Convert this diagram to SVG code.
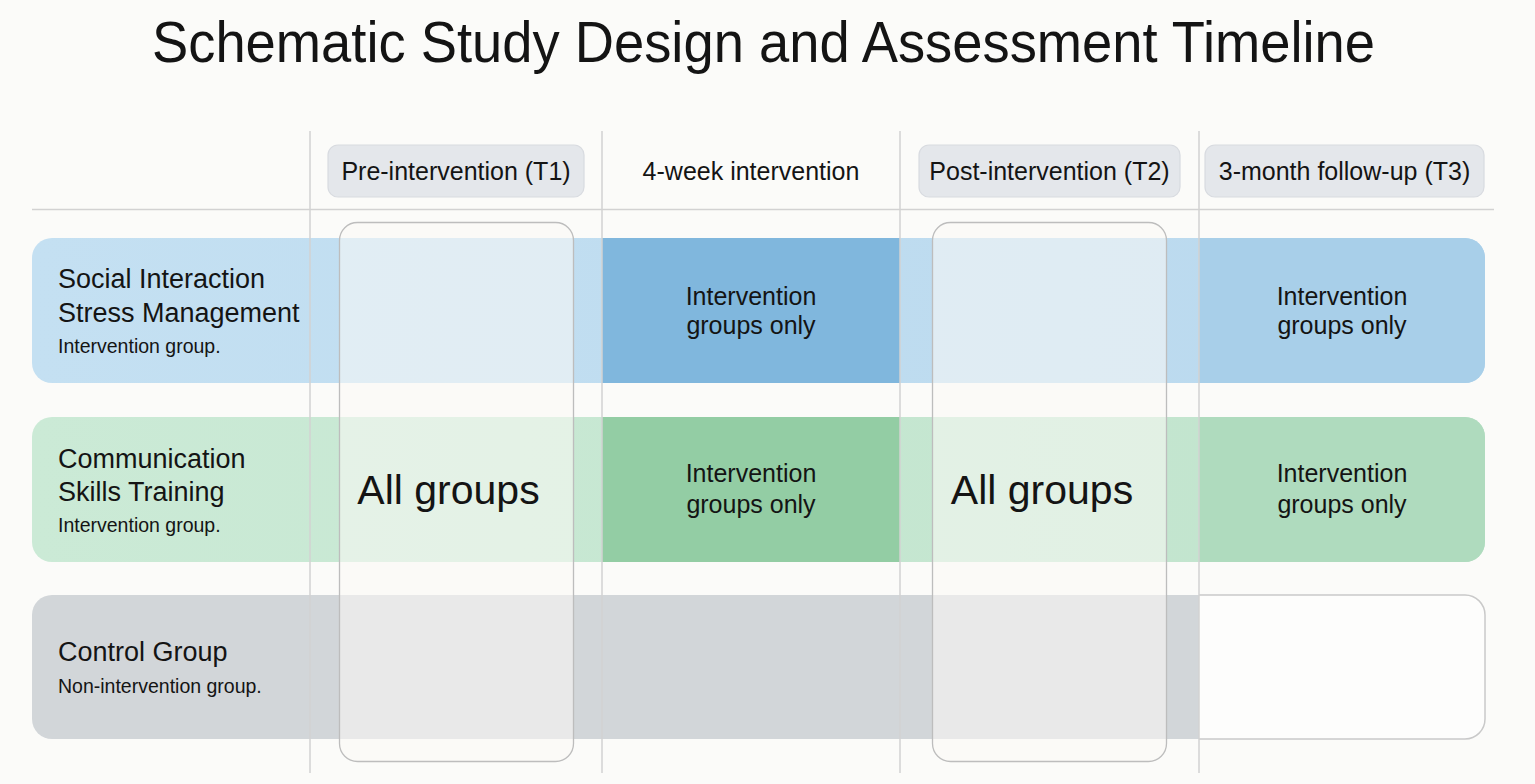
<svg xmlns="http://www.w3.org/2000/svg" width="1535" height="784" viewBox="0 0 1535 784">
  <style>
    text { font-family: "Liberation Sans", Arial, sans-serif; fill: #141414; }
    .title { font-size: 58px; }
    .hdr { font-size: 25px; text-anchor: middle; }
    .lbl { font-size: 27px; }
    .sub { font-size: 19.5px; }
    .cell { font-size: 25px; text-anchor: middle; }
    .all { font-size: 41px; text-anchor: middle; }
    .grid { stroke: #d2d2d2; stroke-width: 1.5; fill: none; }
    .pill { fill: #e4e7eb; stroke: #d8dbe0; stroke-width: 1.2; }
    .overlay { fill: #fbfaf5; fill-opacity: 0.55; stroke: #bdbdbd; stroke-width: 1.3; }
  </style>
  <defs>
    <linearGradient id="gBlue" x1="0" y1="0" x2="1" y2="0">
      <stop offset="0" stop-color="#c4e0f2"/>
      <stop offset="1" stop-color="#bad9ee"/>
    </linearGradient>
    <linearGradient id="gGreen" x1="0" y1="0" x2="1" y2="0">
      <stop offset="0" stop-color="#cbead6"/>
      <stop offset="1" stop-color="#c1e4cd"/>
    </linearGradient>
  </defs>

  <rect x="0" y="0" width="1535" height="784" fill="#fbfbf9"/>

  <text id="title" class="title" x="152" y="62" textLength="1223" lengthAdjust="spacingAndGlyphs">Schematic Study Design and Assessment Timeline</text>

  <!-- Rows -->
  <g id="row-social">
    <rect x="32" y="238" width="1453" height="145" rx="20" fill="url(#gBlue)"/>
    <rect x="602" y="238" width="298" height="145" fill="#80b7dd"/>
    <path d="M1199 238 H1465 A20 20 0 0 1 1485 258 V363 A20 20 0 0 1 1465 383 H1199 Z" fill="#a8cfe9"/>
  </g>
  <g id="row-communication">
    <rect x="32" y="417" width="1453" height="145" rx="20" fill="url(#gGreen)"/>
    <rect x="602" y="417" width="298" height="145" fill="#93cda4"/>
    <path d="M1199 417 H1465 A20 20 0 0 1 1485 437 V542 A20 20 0 0 1 1465 562 H1199 Z" fill="#afdbbe"/>
  </g>
  <g id="row-control">
    <path d="M1199 595 V739 H52 A20 20 0 0 1 32 719 V615 A20 20 0 0 1 52 595 Z" fill="#d2d6d9"/>
    <path d="M1199 595 H1465 A20 20 0 0 1 1485 615 V719 A20 20 0 0 1 1465 739 H1199" fill="#fdfdfc" stroke="#c9c9c9" stroke-width="1.5"/>
  </g>

  <!-- Grid lines -->
  <g id="connectors">
    <line class="grid" x1="32" y1="209.5" x2="1494" y2="209.5"/>
    <line class="grid" x1="310" y1="131" x2="310" y2="773"/>
    <line class="grid" x1="602" y1="131" x2="602" y2="773"/>
    <line class="grid" x1="900" y1="131" x2="900" y2="773"/>
    <line class="grid" x1="1199" y1="131" x2="1199" y2="773"/>
  </g>

  <!-- Headers -->
  <g id="hdr-t1">
    <rect class="pill" x="328" y="145" width="256" height="52" rx="10"/>
    <text class="hdr" x="456" y="180">Pre-intervention (T1)</text>
  </g>
  <g id="hdr-intervention">
    <text class="hdr" x="751" y="180">4-week intervention</text>
  </g>
  <g id="hdr-t2">
    <rect class="pill" x="919" y="145" width="261" height="52" rx="10"/>
    <text class="hdr" x="1049.5" y="180">Post-intervention (T2)</text>
  </g>
  <g id="hdr-t3">
    <rect class="pill" x="1205" y="145" width="279" height="52" rx="10"/>
    <text class="hdr" x="1344.5" y="180">3-month follow-up (T3)</text>
  </g>

  <!-- Assessment overlays -->
  <g id="assess-t1">
    <rect class="overlay" x="339.5" y="222.5" width="234" height="539" rx="18"/>
    <text class="all" x="448.5" y="504">All groups</text>
  </g>
  <g id="assess-t2">
    <rect class="overlay" x="932.5" y="222.5" width="234" height="539" rx="18"/>
    <text class="all" x="1042" y="504">All groups</text>
  </g>

  <!-- Row labels -->
  <g id="label-social">
    <text class="lbl" x="58" y="288">Social Interaction</text>
    <text class="lbl" x="58" y="322">Stress Management</text>
    <text class="sub" x="58" y="353">Intervention group.</text>
  </g>
  <g id="label-communication">
    <text class="lbl" x="58" y="468">Communication</text>
    <text class="lbl" x="58" y="501">Skills Training</text>
    <text class="sub" x="58" y="532">Intervention group.</text>
  </g>
  <g id="label-control">
    <text class="lbl" x="58" y="661">Control Group</text>
    <text class="sub" x="58" y="693">Non-intervention group.</text>
  </g>

  <!-- Cell texts -->
  <g id="cell-social-int">
    <text class="cell" x="751" y="305">Intervention</text>
    <text class="cell" x="751" y="334">groups only</text>
  </g>
  <g id="cell-social-t3">
    <text class="cell" x="1342" y="305">Intervention</text>
    <text class="cell" x="1342" y="334">groups only</text>
  </g>
  <g id="cell-comm-int">
    <text class="cell" x="751" y="482">Intervention</text>
    <text class="cell" x="751" y="513">groups only</text>
  </g>
  <g id="cell-comm-t3">
    <text class="cell" x="1342" y="482">Intervention</text>
    <text class="cell" x="1342" y="513">groups only</text>
  </g>
</svg>
